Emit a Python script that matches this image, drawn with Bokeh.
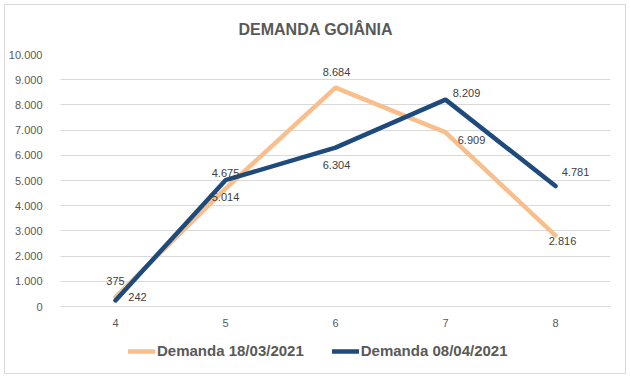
from bokeh.plotting import figure
from bokeh.layouts import column
from bokeh.models import FixedTicker, Legend, LegendItem, ColumnDataSource, Range1d
from bokeh.embed import file_html
from bokeh.resources import INLINE
from bokeh.core.properties import value

# ---- data ----
categories = [4, 5, 6, 7, 8]
demanda_18_03 = [375, 4675, 8684, 6909, 2816]
demanda_08_04 = [242, 5014, 6304, 8209, 4781]
labels_18_03 = ["375", "4.675", "8.684", "6.909", "2.816"]
labels_08_04 = ["242", "5.014", "6.304", "8.209", "4.781"]
y_ticks = [0, 1000, 2000, 3000, 4000, 5000, 6000, 7000, 8000, 9000, 10000]
y_tick_labels = ["0", "1.000", "2.000", "3.000", "4.000", "5.000",
                 "6.000", "7.000", "8.000", "9.000", "10.000"]
series_names = ["Demanda 18/03/2021", "Demanda 08/04/2021"]
title_text = "DEMANDA GOIÂNIA"

# ---- label placement (screen px, layout only) ----
dx_18_03 = [0, 0, 1, 26, 7]
dy_18_03 = [-16, -16, -16, 8, 5]
dx_08_04 = [22, 0, 1, 21, 20]
dy_08_04 = [-3, 17, 17, -7, -14]

ORANGE = "#F8BE8C"
BLUE = "#1F4A7C"
TXT = "#595959"
GRID = "#D9D9D9"
FONT = "Liberation Sans"

p = figure(width=620, height=328, output_backend="svg", toolbar_location=None,
           x_range=Range1d(3.5, 8.5), y_range=Range1d(0, 10000),
           min_border_left=53, min_border_right=15, min_border_top=48,
           min_border_bottom=27)
p.outline_line_color = None
p.background_fill_color = "white"
p.border_fill_color = "white"

p.title.text = title_text
p.title.align = "left"
p.title.offset = 178
p.title.text_font = FONT
p.title.text_font_size = "16px"
p.title.text_font_style = "bold"
p.title.text_color = TXT
p.title.standoff = 30
p.title.vertical_align = "top"

p.xgrid.grid_line_color = None
p.ygrid.grid_line_color = GRID
p.ygrid.ticker = FixedTicker(ticks=y_ticks)

p.xaxis.ticker = FixedTicker(ticks=categories)
p.xaxis.axis_line_color = GRID
p.xaxis.major_tick_line_color = None
p.xaxis.minor_tick_line_color = None
p.xaxis.major_label_text_font = FONT
p.xaxis.major_label_text_font_size = "11px"
p.xaxis.major_label_text_color = TXT
p.xaxis.major_label_standoff = 6

p.yaxis.ticker = FixedTicker(ticks=y_ticks)
p.yaxis.major_label_overrides = {t: l for t, l in zip(y_ticks, y_tick_labels)}
p.yaxis.axis_line_color = None
p.yaxis.major_tick_line_color = None
p.yaxis.minor_tick_line_color = None
p.yaxis.major_label_text_font = FONT
p.yaxis.major_label_text_font_size = "11px"
p.yaxis.major_label_text_color = TXT
p.yaxis.major_label_standoff = 12

src_a = ColumnDataSource(dict(x=categories, y=demanda_18_03, t=labels_18_03,
                              dx=dx_18_03, dy=dy_18_03))
src_b = ColumnDataSource(dict(x=categories, y=demanda_08_04, t=labels_08_04,
                              dx=dx_08_04, dy=dy_08_04))

p.line("x", "y", source=src_a, line_color=ORANGE, line_width=4.5, line_cap="round")
p.line("x", "y", source=src_b, line_color=BLUE, line_width=4.5, line_cap="round")

for src in (src_a, src_b):
    p.text("x", "y", text="t", source=src, x_offset="dx", y_offset="dy",
           text_align="center", text_baseline="middle",
           text_font=value(FONT), text_font_size="11px", text_color="#404040")

# ---- legend strip (series drawn out of its view; only their legend keys show) ----
p2 = figure(width=620, height=40, output_backend="svg", toolbar_location=None,
            x_axis_type=None, y_axis_type=None,
            x_range=Range1d(0, 1), y_range=Range1d(0, 1),
            min_border_left=0, min_border_right=0, min_border_top=0, min_border_bottom=0)
p2.outline_line_color = None
p2.xgrid.grid_line_color = None
p2.ygrid.grid_line_color = None
p2.border_fill_color = "white"
la = p2.line("x", "y", source=src_a, line_color=ORANGE, line_width=4.5, line_cap="round")
lb = p2.line("x", "y", source=src_b, line_color=BLUE, line_width=4.5, line_cap="round")

legend = Legend(items=[LegendItem(label=series_names[0], renderers=[la]),
                       LegendItem(label=series_names[1], renderers=[lb])],
                orientation="horizontal", location=(68, 14),
                glyph_width=27, glyph_height=10, label_standoff=2, spacing=28,
                padding=0, margin=0, border_line_color=None,
                background_fill_alpha=0,
                label_text_font=FONT, label_text_font_size="15px",
                label_text_font_style="bold", label_text_color=TXT)
p2.add_layout(legend, "center")

layout = column(p, p2, spacing=0,
                styles={"border": "1px solid #D9D9D9", "margin-left": "4px",
                        "margin-top": "4px"})

open("out.html", "w").write(file_html(layout, INLINE))
